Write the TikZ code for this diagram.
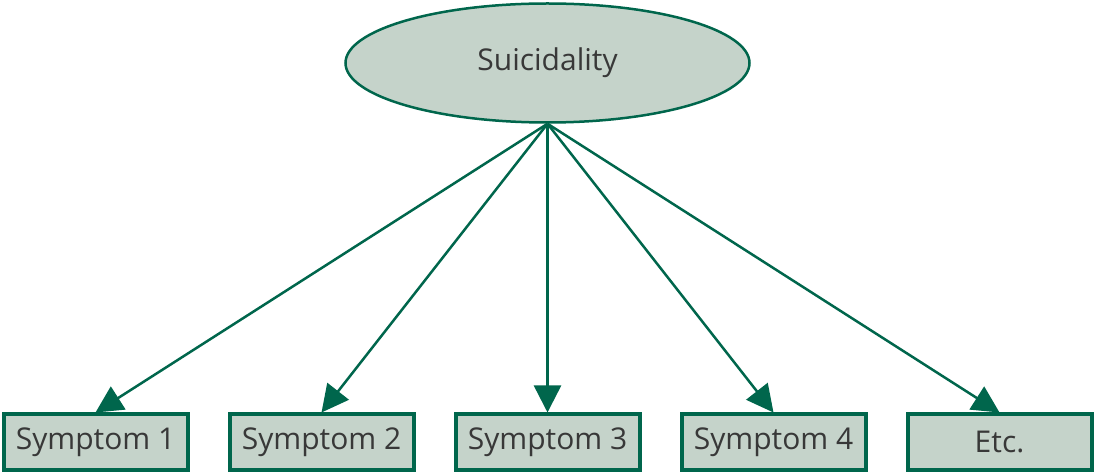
\documentclass[tikz,border=0pt]{standalone}
\usepackage{fontspec}
\setmainfont{Open Sans}
\usetikzlibrary{shapes.geometric, arrows.meta, positioning}
\usepackage{xcolor}
\definecolor{pineGreen}{RGB}{0, 102, 76}
\definecolor{sageGrey}{RGB}{197, 211, 202}

\begin{document}
\begin{tikzpicture}
    [
		x=1pt, y=1pt,
		node distance=226pt,
		latent/.style={
			draw=pineGreen, ellipse, line width=2.5pt, fill=sageGrey,
			minimum width=404pt, minimum height=119pt, align=center,
			font=\fontsize{30}{34}\selectfont, text=black!78
		},
		observed/.style={
			draw=pineGreen, rectangle, line width=4pt, fill=sageGrey,
			minimum width=184pt, minimum height=55pt, align=center,
			font=\fontsize{30}{34}\selectfont, text=black!78
		},
		loading/.style={
			draw=pineGreen, line width=2.5pt,
			-{Triangle[length=27pt, width=27pt]}
		}
	]
	\useasboundingbox (0,0) rectangle (1095,474);

% Nodes
\node (sui) [latent] at (547.5,411) {Suicidality};
\node (s3) [observed] at (547.5,32) {Symptom 3};
\node (s2) [observed, left of=s3] {Symptom 2};
\node (s1) [observed, left of=s2] {Symptom 1};
\node (s4) [observed, right of=s3] {Symptom 4};
\node (etc) [observed, right of=s4] {Etc.};

% Paths
\draw [loading] (sui.south) -- (s1.north);
\draw [loading] (sui.south) -- (s2.north);
\draw [loading] (sui.south) -- (s3.north);
\draw [loading] (sui.south) -- (s4.north);
\draw [loading] (sui.south) -- (etc.north);

\end{tikzpicture}
\end{document}
